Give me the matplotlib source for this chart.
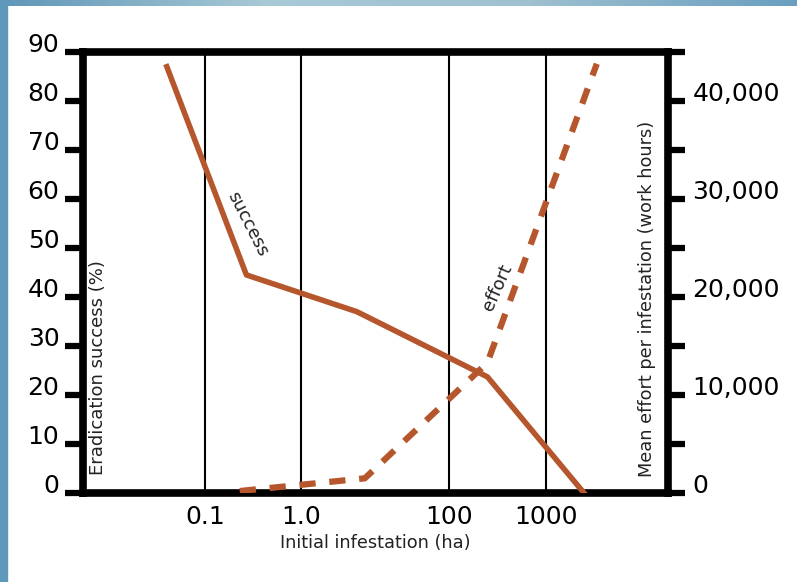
import numpy as np
import matplotlib
matplotlib.use('Agg')
import matplotlib.pyplot as plt
from matplotlib.patches import Rectangle
from matplotlib.colors import LinearSegmentedColormap

# data
success_ha = [0.04, 0.27, 5.7, 250, 2500]
success_pct = [87, 44.5, 37, 23.7, 0]
effort_ha = [0.23, 7.3, 250, 3400]
effort_hours = [200, 1500, 13300, 43800]

x_ticks = [0.1, 1, 100, 1000]
x_tick_labels = ['0.1', '1.0', '100', '1000']
left_ticks = list(range(0, 91, 10))
right_ticks = [0, 10000, 20000, 30000, 40000]
right_minor = [5000, 15000, 25000, 35000, 45000]
right_tick_labels = ['0', '10,000', '20,000', '30,000', '40,000']

line_color = '#b5562c'

# the x axis is log-like, but the 1.0 -> 100 span is squeezed in the original
knot_log = np.array([-1.0, 0.0, 2.0, 3.0])
knot_pos = np.array([0.0, 1.0, 2.54, 3.55])


def fwd(x):
    L = np.log10(np.maximum(np.asarray(x, dtype=float), 1e-12))
    p = np.interp(L, knot_log, knot_pos)
    p = np.where(L < knot_log[0], knot_pos[0] + (L - knot_log[0]), p)
    p = np.where(L > knot_log[-1], knot_pos[-1] + (L - knot_log[-1]), p)
    return p


def inv(p):
    p = np.asarray(p, dtype=float)
    L = np.interp(p, knot_pos, knot_log)
    L = np.where(p < knot_pos[0], knot_log[0] + (p - knot_pos[0]), L)
    L = np.where(p > knot_pos[-1], knot_log[-1] + (p - knot_pos[-1]), L)
    return 10 ** L


plt.rcParams['font.family'] = ['DejaVu Sans']
fig = plt.figure(figsize=(7.97, 5.82), dpi=100)

# blue frame strips of the slide
fig.patches.append(Rectangle((0, 0), 7 / 797, 1, transform=fig.transFigure,
                             color='#5e98ba', zorder=0))
band = fig.add_axes([0, 1 - 6 / 582, 1, 6 / 582])
cmap = LinearSegmentedColormap.from_list('band', ['#5f96b8', '#a8c9d6', '#9ec0d0', '#6a9fc0'])
band.imshow(np.linspace(0, 1, 256)[None, :], aspect='auto', cmap=cmap)
band.axis('off')

ax = fig.add_axes([83 / 797, 1 - 493 / 582, 585 / 797, 441 / 582])
ax.set_xscale('function', functions=(fwd, inv))
ax.set_xlim(inv(-1.271), inv(4.823))
ax.set_ylim(0, 90)

ax2 = ax.twinx()
ax2.set_ylim(0, 45000)

# lines
ax.plot(success_ha, success_pct, color=line_color, lw=4, zorder=3)
ax2.plot(effort_ha, effort_hours, color=line_color, lw=4.5,
         linestyle=(0, (2.6, 2.2)), dash_capstyle='butt', zorder=3)

# x axis: vertical lines at the labelled values
ax.set_xticks(x_ticks)
ax.set_xticklabels(x_tick_labels)
ax.xaxis.set_minor_locator(matplotlib.ticker.NullLocator())
ax.grid(axis='x', color='black', lw=1.5)
ax.tick_params(axis='x', length=0, labelsize=18, pad=9)
ax.set_xlabel('Initial infestation (ha)', fontsize=12.8, labelpad=3, color='#222222')

# left axis
ax.set_yticks(left_ticks)
ax.tick_params(axis='y', direction='out', length=13, width=4.5, labelsize=18, pad=4)
plt.setp(ax.get_yticklabels(), va='baseline')

# right axis
ax2.set_yticks(right_ticks)
ax2.set_yticklabels(right_tick_labels)
ax2.set_yticks(right_minor, minor=True)
ax2.tick_params(axis='y', which='both', direction='out', length=12.5, width=4.5,
                labelsize=18, pad=5)
plt.setp(ax2.get_yticklabels(), va='baseline')

for side in ['left', 'top', 'bottom']:
    ax.spines[side].set_linewidth(5.5)
    ax2.spines[side].set_visible(False)
ax.spines['right'].set_visible(False)
ax2.spines['right'].set_linewidth(5.5)

# labels inside the plot
ax.text(0.026, 0.285, 'Eradication success (%)', transform=ax.transAxes,
        rotation=90, ha='center', va='center', fontsize=13, color='#222222')
ax2.text(0.964, 0.44, 'Mean effort per infestation (work hours)', transform=ax2.transAxes,
         rotation=90, ha='center', va='center', fontsize=12.8, color='#222222')
ax.text(0.282, 0.61, 'success', transform=ax.transAxes, rotation=-63,
        ha='center', va='center', fontsize=13, color='#222222')
ax2.text(0.709, 0.467, 'effort', transform=ax2.transAxes, rotation=66,
         ha='center', va='center', fontsize=13, color='#222222')

fig.savefig('out.png', dpi=100)
